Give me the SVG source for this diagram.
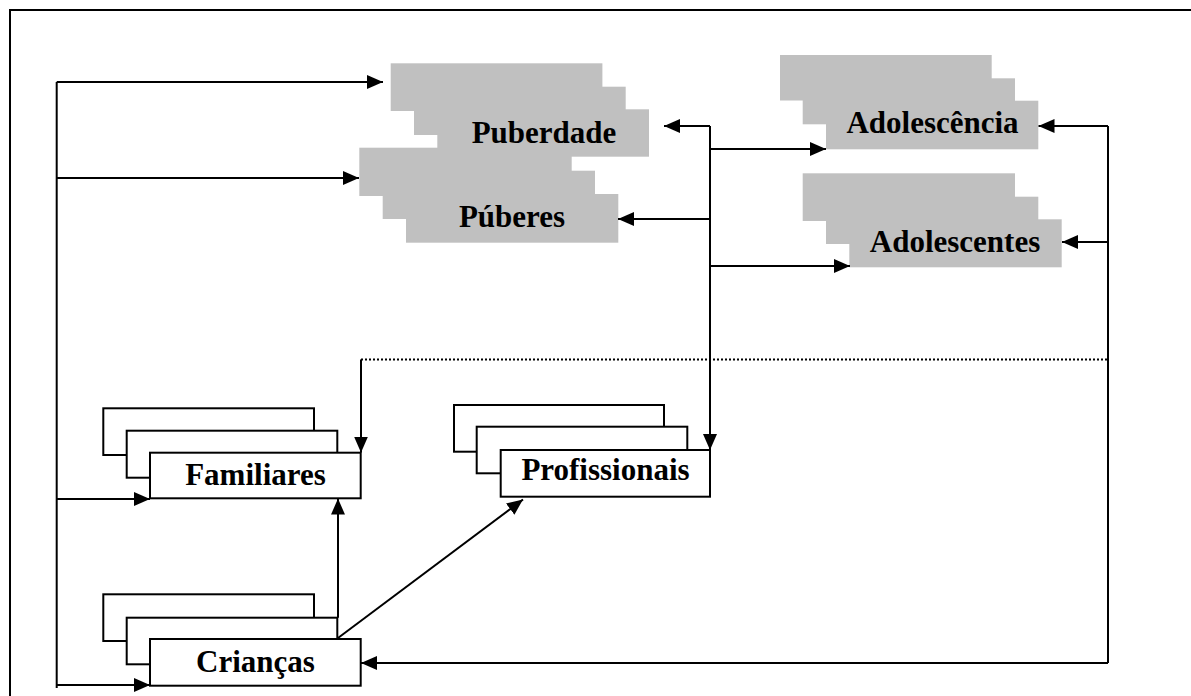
<svg xmlns="http://www.w3.org/2000/svg" width="1191" height="696" viewBox="0 0 1191 696">
  <style>
    .lbl { font-family: "Liberation Serif", "Times New Roman", serif; font-weight: bold; font-size: 31px; fill: #000; text-anchor: middle; }
    .gray { fill: #c0c0c0; stroke: none; }
    .box { fill: #fff; stroke: #000; stroke-width: 2; }
    .ln { fill: none; stroke: #000; stroke-width: 2; }
    .dot { fill: none; stroke: #000; stroke-width: 2; stroke-dasharray: 2 2; }
  </style>
  <defs>
    <marker id="arrow" markerUnits="userSpaceOnUse" markerWidth="16" markerHeight="14" refX="16" refY="7" orient="auto">
      <path d="M0,0 L16,7 L0,14 z" fill="#000"/>
    </marker>
  </defs>

  <rect width="1191" height="696" fill="#fff"/>
  <!-- outer frame -->
  <rect x="10" y="10" width="1200" height="700" class="ln"/>

  <!-- shaded stacks -->
  <g id="puberdade">
    <rect class="gray" x="390.7" y="63.3" width="211.7" height="47.7"/>
    <rect class="gray" x="414" y="86.7" width="211.7" height="48.3"/>
    <rect class="gray" x="437.3" y="109.3" width="211.7" height="47.4"/>
    <text class="lbl" x="544" y="142.5">Puberdade</text>
  </g>
  <g id="puberes">
    <rect class="gray" x="359.3" y="147.7" width="212.4" height="48.3"/>
    <rect class="gray" x="382.7" y="170.7" width="212.3" height="48.3"/>
    <rect class="gray" x="406" y="194" width="212.3" height="48.7"/>
    <text class="lbl" x="512" y="226.5">Púberes</text>
  </g>
  <g id="adolescencia">
    <rect class="gray" x="780" y="55" width="211.7" height="45.5"/>
    <rect class="gray" x="802.7" y="78.3" width="212.3" height="46"/>
    <rect class="gray" x="826" y="100.7" width="212.3" height="48.6"/>
    <text class="lbl" x="932.5" y="133">Adolescência</text>
  </g>
  <g id="adolescentes">
    <rect class="gray" x="802.7" y="173.3" width="212.3" height="47.7"/>
    <rect class="gray" x="826" y="196.7" width="212.3" height="47.3"/>
    <rect class="gray" x="849.3" y="219.3" width="212.4" height="48"/>
    <text class="lbl" x="955" y="252">Adolescentes</text>
  </g>

  <!-- outlined stacks -->
  <g id="familiares">
    <rect class="box" x="103.3" y="408.3" width="210.7" height="46.7"/>
    <rect class="box" x="126.7" y="430.7" width="210.6" height="47"/>
    <rect class="box" x="150" y="452.7" width="210.7" height="45.6"/>
    <text class="lbl" x="255.5" y="485">Familiares</text>
  </g>
  <g id="profissionais">
    <rect class="box" x="454" y="405" width="210" height="46.7"/>
    <rect class="box" x="476.7" y="426.7" width="210.6" height="46.6"/>
    <rect class="box" x="500.7" y="450" width="209.3" height="46.7"/>
    <text class="lbl" x="605.5" y="480">Profissionais</text>
  </g>
  <g id="criancas">
    <rect class="box" x="103.3" y="594.3" width="210.7" height="46.7"/>
    <rect class="box" x="126.7" y="617.7" width="210.6" height="46.6"/>
    <rect class="box" x="150" y="639" width="210.7" height="46.7"/>
    <text class="lbl" x="255.5" y="671.5">Crianças</text>
  </g>

  <!-- connectors -->
  <g id="connectors">
    <!-- left bus -->
    <path class="ln" d="M56.7,82 V688"/>
    <path class="ln" d="M56.7,82 H383" marker-end="url(#arrow)"/>
    <path class="ln" d="M56.7,178 H359" marker-end="url(#arrow)"/>
    <path class="ln" d="M56.7,499 H150" marker-end="url(#arrow)"/>
    <path class="ln" d="M56.7,685 H150" marker-end="url(#arrow)"/>

    <!-- middle bus -->
    <path class="ln" d="M710,126 V450" marker-end="url(#arrow)"/>
    <path class="ln" d="M710,126 H664" marker-end="url(#arrow)"/>
    <path class="ln" d="M710,219 H618" marker-end="url(#arrow)"/>
    <path class="ln" d="M710,149 H826" marker-end="url(#arrow)"/>
    <path class="ln" d="M710,266 H850" marker-end="url(#arrow)"/>

    <!-- right bus -->
    <path class="ln" d="M1108,126 V663"/>
    <path class="ln" d="M1108,126 H1038.5" marker-end="url(#arrow)"/>
    <path class="ln" d="M1108,242 H1062" marker-end="url(#arrow)"/>
    <path class="ln" d="M1108,663 H361" marker-end="url(#arrow)"/>

    <!-- dotted link down to Familiares -->
    <path class="dot" d="M1107,359.5 H361"/>
    <path class="ln" d="M361,359.5 V452.5" marker-end="url(#arrow)"/>

    <!-- from Crianças -->
    <path class="ln" d="M338,617.7 V498.5" marker-end="url(#arrow)"/>
    <path class="ln" d="M338,638 L523,499.5" marker-end="url(#arrow)"/>
  </g>
</svg>
